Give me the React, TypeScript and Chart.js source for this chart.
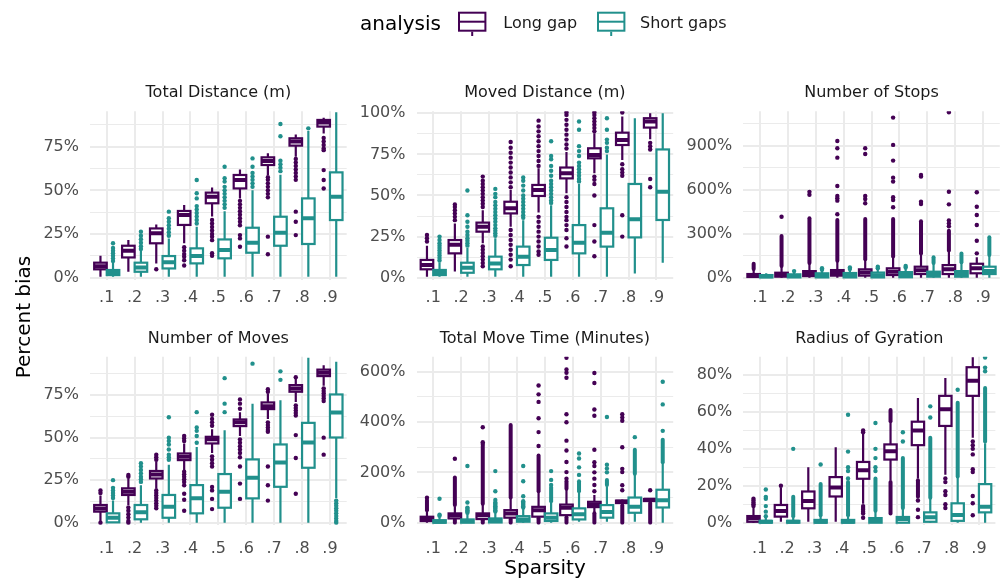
import React, { useEffect, useRef } from 'react';
import { Chart, registerables } from 'chart.js';

Chart.register(...registerables);

// ---------------- data ----------------
const SPARSITY = ['.1', '.2', '.3', '.4', '.5', '.6', '.7', '.8', '.9'];
const SERIES = ['Long gap', 'Short gaps'];

// stats per sparsity level: [lower whisker, q1, median, q3, upper whisker]
// ---- Total Distance (m)
const TD_LONG = [[0.5, 4.8, 6.5, 8.6, 12.5], [3.4, 11.6, 15.5, 18.3, 21.6], [8.2, 19.7, 25.4, 28.2, 30.5], [19.7, 30.2, 35.9, 38.2, 41.6], [35, 42.6, 46.4, 48.7, 51.7], [45.4, 51.1, 55.9, 58.8, 62], [58.8, 64.5, 66.8, 68.9, 71.2], [69.3, 75.6, 77.9, 79.8, 82], [82.6, 86.5, 88.9, 90.3, 91.6]];
const TD_LONG_OUT = [[], [], [4.8], [17.5, 15.5, 13.5, 12, 10, 7], [33, 31, 29, 27, 25, 23.5, 21.5, 14, 12.6], [44, 42, 40, 38, 36, 34, 32, 30, 24.4, 22.5, 17.7], [57.5, 56, 54, 52, 50, 48, 46, 23.5, 13.4], [68, 66, 64, 62, 60, 58, 56, 37.8, 32, 24.4], [80, 78, 76, 74, 73, 61.6, 55.9, 51.1]];
const TD_LONG_RUN = [[], [], [], [], [], [], [], [], []];
const TD_SHORT = [[0.5, 1.5, 3, 4.4, 8.5], [0.5, 3.4, 5.9, 8.6, 16], [0.5, 5.3, 8.8, 12.4, 22.5], [0.5, 8.2, 12.4, 16.8, 29.2], [0.5, 11.1, 15.8, 21.9, 38], [0.5, 14.3, 20, 28.6, 50], [0.5, 18.3, 25.8, 34.9, 59], [0.5, 19.3, 34, 45.4, 84], [0.5, 33, 46.4, 60.3, 94.7]];
const TD_SHORT_OUT = [[9.5, 11, 12.5, 14, 15.5, 17, 19.7], [16.5, 18, 20, 22, 24, 26.3], [24, 26, 28, 30, 32, 34, 37.8], [31, 33, 35, 37, 39, 41, 45.4, 48.3, 55.9], [40, 42, 44, 46, 48, 50, 52, 55, 57, 63.5], [52, 54, 56, 58, 60, 63.5, 68.3], [61, 63, 65, 67, 81, 88], [85.5], []];
const TD_SHORT_RUN = [[], [], [], [], [], [], [], [], []];

// ---- Moved Distance (m)
const MD_LONG = [[0.6, 5.1, 7.7, 10.8, 19.4], [3.7, 14.8, 20, 22.9, 33], [20.9, 28, 31, 33.5, 41], [31, 39.1, 42.2, 46.2, 53.3], [39.7, 49.7, 53.3, 56.4, 66.5], [51.3, 60.4, 63.5, 67, 76.5], [63.5, 72.6, 74.6, 78.7, 87.8], [71.6, 80.7, 83.8, 88.2, 98], [84.2, 91.3, 95, 97, 100]];
const MD_LONG_OUT = [[22, 24, 26], [35, 37, 39, 41, 43, 44.5], [43, 45, 47, 49, 51, 53, 55, 57, 59, 61.5, 19, 17, 15, 13, 11, 9, 7], [55, 58, 61, 64, 67, 70, 73, 76, 79, 82.5, 29, 26, 23, 20, 17, 14, 11, 7], [68, 71, 74, 77, 80, 83, 86, 89, 92, 95.5, 37, 34, 31, 28, 25, 22, 19, 16, 14], [78.5, 81, 84, 87, 90, 93, 96, 99, 100.5, 49, 46, 43, 40, 37, 35, 32, 29, 24, 19], [89, 91, 93, 95, 97, 99, 100.5, 61.5, 59.5, 57, 50, 32, 22, 13], [100.5, 69, 66, 64, 62, 38, 25], [82, 80, 78, 60, 55]];
const MD_LONG_RUN = [[], [], [], [], [], [], [], [], []];
const MD_SHORT = [[0.6, 1.6, 3, 4.7, 9.3], [0.6, 3, 6.1, 9.1, 18], [0.6, 5.1, 8.7, 12.8, 24], [0.6, 7.7, 12.8, 18.9, 35], [0.6, 10.8, 16.8, 24.3, 44], [0.6, 14.8, 21.3, 32, 57], [0.6, 18.9, 27.4, 42.2, 75], [2.6, 24.5, 35.5, 57, 97], [9.1, 35.1, 52.3, 78, 100]];
const MD_SHORT_OUT = [[10.5, 12, 13.5, 15, 16.5, 18, 19.5, 21, 23, 25], [19.5, 21, 22.5, 24, 26, 28, 31, 34, 38, 53], [25.5, 27, 28.5, 30, 32, 34, 36, 38, 40, 42, 44, 46, 49, 51, 54], [36.5, 38, 40, 42, 44, 46, 48, 50, 53, 56, 59, 61], [45.5, 47, 49, 51, 53, 55, 57, 59, 62, 65, 68, 72, 74, 83], [58.5, 60, 62, 64, 66, 68, 70, 74, 77, 80, 90, 95], [77, 79, 82, 84, 90, 97], [], []];
const MD_SHORT_RUN = [[], [], [], [], [], [], [], [], []];

// ---- Number of Stops
const NS_LONG = [[0, 5, 12, 25, 55], [0, 7, 20, 34, 75], [0, 11, 28, 45, 95], [0, 14, 32, 52, 110], [0, 14, 36, 57, 120], [0, 18, 41, 64, 140], [0, 25, 50, 75, 160], [0, 25, 58, 86, 180], [0, 30, 65, 95, 140]];
const NS_LONG_OUT = [[], [415], [565, 585], [432, 525, 541, 557, 625, 818, 882, 932], [507, 536, 557, 843, 882], [480, 530, 548, 655, 682, 798, 905, 1091], [502, 518, 689, 700], [350, 370, 390, 500, 586, 1127], [166, 252, 359, 427, 484, 582]];
const NS_LONG_RUN = [[[60, 95]], [[80, 285]], [[100, 405]], [[115, 393]], [[125, 400]], [[145, 400]], [[165, 385]], [[185, 320]], []];
const NS_SHORT = [[0, 2, 10, 18, 30], [0, 2, 12, 23, 40], [0, 2, 15, 30, 50], [0, 2, 15, 32, 55], [0, 2, 17, 35, 60], [0, 3, 18, 38, 65], [0, 7, 25, 41, 95], [0, 7, 25, 45, 100], [0, 25, 45, 75, 150]];
const NS_SHORT_OUT = [[], [45], [55, 65], [60, 70], [65, 75], [70, 80], [], [], []];
const NS_SHORT_RUN = [[], [], [], [], [], [], [[100, 140]], [[105, 165]], [[155, 275]]];

// ---- Number of Moves
const NM_LONG = [[0.6, 6.5, 8.4, 10.4, 16], [10.4, 16.3, 18.2, 20.2, 26], [20, 26, 28.4, 30.4, 36], [31, 36.8, 38.8, 40.7, 46.5], [41, 46.6, 49, 50.5, 55], [51, 56.8, 59, 60.7, 65], [61, 66.8, 68.5, 70.7, 76], [71, 77, 78.9, 80.9, 84.5], [80.5, 86.2, 88.1, 90, 92.5]];
const NM_LONG_OUT = [[17.5, 19, 0], [27, 28, 9, 7, 5, 3, 1, 0], [37, 38.5, 40, 19, 17.5, 16, 14.5, 13, 11.5, 10, 8.5], [48, 49.5, 51, 30, 28.5, 27, 25.5, 24, 22, 17, 13.5, 7], [57, 59, 61, 63.5, 39, 37, 35, 33, 21, 19, 14, 8], [67, 70, 72.5, 49, 47, 45, 43, 41, 38.5, 33, 23, 14], [77, 78.5, 59, 57.5, 56, 54.5, 53.5, 33, 22, 13], [85.5, 69, 67.5, 66, 64.5, 63, 51.5, 38, 17], [79, 77.5, 76, 74.5, 73, 71.5, 50, 40]];
const NM_LONG_RUN = [[], [], [], [], [], [], [], [], []];
const NM_SHORT = [[0, 0.2, 2.9, 5.5, 13], [0, 2, 6.1, 10.4, 22], [0, 2.9, 9.4, 16.3, 34], [0, 5.5, 14.3, 22.1, 44.5], [0, 8.8, 18.2, 28.6, 54.4], [0, 14.3, 26.4, 37.2, 69.9], [0, 21.1, 35.4, 46, 72], [0, 32.3, 47.2, 58.7, 97], [14.3, 50.1, 64.8, 75.4, 94.6]];
const NM_SHORT_OUT = [[14.5, 16, 17.5, 19, 20.5, 25], [24, 25.5, 27, 29, 31, 33, 35], [37, 38.5, 40, 43, 46, 48, 50, 62], [47, 51, 54, 56, 65], [65, 70, 85], [93.5], [84, 89], [], [13, 11.5, 10, 8.5, 7, 5.5, 4, 2.5, 1, 0]];
const NM_SHORT_RUN = [[], [], [], [], [], [], [], [], []];

// ---- Total Move Time (Minutes)
const MT_LONG = [[0, 6.6, 17, 23.7, 45], [0, 17, 30, 37, 65], [0, 14.5, 30, 37, 70], [0, 20, 37, 50, 95], [0, 24, 50, 63, 120], [0, 30, 59, 72, 130], [40, 62, 70, 83, 110], [70, 78, 83, 88, 92], [80, 86, 91, 94, 97]];
const MT_LONG_OUT = [[99], [254], [313, 320, 379], [], [305, 360, 415, 480, 510, 545], [175, 201, 241, 287, 326, 399, 431, 576, 596, 609, 655], [125, 150, 175, 200, 225, 240, 290, 425, 450, 555, 595], [129, 149, 201, 214, 300, 405, 418, 431], [129]];
const MT_LONG_RUN = [[[50, 90]], [[70, 180], [0, 12]], [[75, 306], [0, 10]], [[100, 388], [0, 15]], [[125, 267], [0, 18]], [[135, 165], [0, 22]], [[0, 38]], [[0, 68]], [[0, 78]]];
const MT_SHORT = [[0, 0, 4, 10, 25], [0, 0, 6.5, 13, 35], [0, 1, 8, 17, 40], [0, 4, 13, 26, 55], [0, 7, 20, 37, 80], [4, 13, 34, 57, 120], [4, 20, 43, 70, 145], [4, 39.5, 63, 100, 190], [0, 60.5, 89.5, 131, 235]];
const MT_SHORT_OUT = [[28, 32, 95], [40, 45, 50, 55, 60, 80, 225], [45, 50, 55, 60, 65, 70, 75, 80, 90, 125, 205], [60, 65, 70, 75, 80, 85, 105, 165, 225], [150, 170, 205], [190, 220, 255, 275], [200, 215, 230, 420], [340], [365, 470, 560]];
const MT_SHORT_RUN = [[], [], [], [], [[85, 140]], [[125, 165]], [[150, 170]], [[195, 290]], [[240, 330]]];

// ---- Radius of Gyration
const RG_LONG = [[0, 0.5, 2.4, 3.6, 8], [0.5, 3.3, 6.4, 9.6, 19], [0.5, 7.8, 11.8, 16.9, 30], [0.5, 14.2, 19.1, 24.7, 40.9], [10.2, 23.8, 28.4, 32.9, 48], [23, 34.2, 38.7, 42.4, 54], [24, 42, 50, 54.7, 67.5], [26, 52.4, 61.5, 68.7, 78.4], [46, 68.7, 76.9, 84.2, 89.6]];
const RG_LONG_OUT = [[9, 10, 11, 12, 13], [20], [], [], [49, 50, 9, 8, 7, 6, 5, 2.7], [], [12, 7, 3], [24, 22, 17, 15, 10, 8], [44, 42, 40, 37, 29, 27.5, 14.5, 10.5, 4]];
const RG_LONG_RUN = [[], [], [], [], [], [[55, 61], [5, 22]], [[14, 23]], [], []];
const RG_SHORT = [[0, 0, 0.5, 1, 2.5], [0, 0, 0.5, 1, 2.5], [0, 0, 0.5, 1.5, 3.5], [0, 0, 0.5, 1.5, 3.5], [0, 0, 1, 2.5, 6], [0, 0, 2, 3.1, 7.5], [0, 0.5, 3, 5.6, 13], [0, 1, 4.2, 10.5, 24.7], [0, 5.6, 8.7, 20.9, 43]];
const RG_SHORT_OUT = [[3.5, 6, 9, 13, 14, 18], [40], [31.5], [24, 28, 30, 38.5, 58.5], [28, 30, 35, 40, 54], [44, 49], [57, 63], [72], [82, 84, 89.5]];
const RG_SHORT_RUN = [[], [[3.5, 14]], [[4, 21]], [[4, 22]], [[6.5, 24]], [[8, 35]], [[13.5, 46]], [[25, 65]], [[44, 73]]];

// tick values (major = labelled, minor = unlabelled grid)
const TD_MAJOR = [0, 25, 50, 75];
const TD_MINOR = [12.5, 37.5, 62.5, 87.5];
const MD_MAJOR = [0, 25, 50, 75, 100];
const MD_MINOR = [12.5, 37.5, 62.5, 87.5];
const NS_MAJOR = [0, 300, 600, 900];
const NS_MINOR = [150, 450, 750, 1050];
const NM_MAJOR = [0, 25, 50, 75];
const NM_MINOR = [12.5, 37.5, 62.5, 87.5];
const MT_MAJOR = [0, 200, 400, 600];
const MT_MINOR = [100, 300, 500];
const RG_MAJOR = [0, 20, 40, 60, 80];
const RG_MINOR = [10, 30, 50, 70];

// ---------------- layout / style ----------------
const COLORS = ['#440154', '#21908C'];
const OFFSETS = [-0.225, 0.225];
const BOX_WIDTH = 0.45;
const FONT = "'DejaVu Sans', sans-serif";
const COL_LEFT = [90, 416.5, 743.2];
const PANEL_W = 256.7;
const ROW_TOP = [111.3, 356.7];
const ROW_BOTTOM = [279.7, 524.7];
const X_TICK_PAD = [9, 15];
const Y_AXIS_W = 70;
const X_AXIS_H = 40;
const TITLE_PAD_TOP = 4;
const TITLE_PAD_BOTTOM = 8.4;
const TITLE_LINE = 19.2;
const BOX_LINE = 2.2;
const MEDIAN_LINE = 4;
const RUN_LINE = 4;
const POINT_R = 2.2;

type PanelDef = {
  title: string; col: number; row: number; yMin: number; yMax: number;
  major: number[]; minor: number[];
  stats: number[][][]; outs: number[][][]; runs: number[][][][];
};

const PANELS: PanelDef[] = [
  { title: 'Total Distance (m)', col: 0, row: 0, yMin: -1.14, yMax: 95.25, major: TD_MAJOR, minor: TD_MINOR,
    stats: [TD_LONG, TD_SHORT], outs: [TD_LONG_OUT, TD_SHORT_OUT], runs: [TD_LONG_RUN, TD_SHORT_RUN] },
  { title: 'Moved Distance (m)', col: 1, row: 0, yMin: -1.22, yMax: 101.2, major: MD_MAJOR, minor: MD_MINOR,
    stats: [MD_LONG, MD_SHORT], outs: [MD_LONG_OUT, MD_SHORT_OUT], runs: [MD_LONG_RUN, MD_SHORT_RUN] },
  { title: 'Number of Stops', col: 2, row: 0, yMin: -13.6, yMax: 1134, major: NS_MAJOR, minor: NS_MINOR,
    stats: [NS_LONG, NS_SHORT], outs: [NS_LONG_OUT, NS_SHORT_OUT], runs: [NS_LONG_RUN, NS_SHORT_RUN] },
  { title: 'Number of Moves', col: 0, row: 1, yMin: -1.18, yMax: 97.6, major: NM_MAJOR, minor: NM_MINOR,
    stats: [NM_LONG, NM_SHORT], outs: [NM_LONG_OUT, NM_SHORT_OUT], runs: [NM_LONG_RUN, NM_SHORT_RUN] },
  { title: 'Total Move Time (Minutes)', col: 1, row: 1, yMin: -7.9, yMax: 659.5, major: MT_MAJOR, minor: MT_MINOR,
    stats: [MT_LONG, MT_SHORT], outs: [MT_LONG_OUT, MT_SHORT_OUT], runs: [MT_LONG_RUN, MT_SHORT_RUN] },
  { title: 'Radius of Gyration', col: 2, row: 1, yMin: -1.08, yMax: 89.9, major: RG_MAJOR, minor: RG_MINOR,
    stats: [RG_LONG, RG_SHORT], outs: [RG_LONG_OUT, RG_SHORT_OUT], runs: [RG_LONG_RUN, RG_SHORT_RUN] },
];

function makeBoxPlugin(p: PanelDef) {
  return {
    id: 'boxplots',
    beforeDatasetsDraw(chart: any) {
      const { ctx, chartArea: a } = chart;
      const xs = chart.scales.x;
      const ys = chart.scales.y;
      const unit = xs.getPixelForValue(1) - xs.getPixelForValue(0);
      const half = (unit * BOX_WIDTH) / 2;
      ctx.save();
      ctx.beginPath();
      ctx.rect(a.left, a.top, a.right - a.left, a.bottom - a.top);
      ctx.clip();
      p.stats.forEach((series, si) => {
        const color = COLORS[si];
        series.forEach((st, i) => {
          const cx = xs.getPixelForValue(i + 1 + OFFSETS[si]);
          const [lo, q1, md, q3, hi] = st.map((v) => ys.getPixelForValue(v));
          ctx.strokeStyle = color;
          ctx.lineCap = 'butt';
          ctx.lineWidth = BOX_LINE;
          ctx.beginPath();
          ctx.moveTo(cx, hi);
          ctx.lineTo(cx, q3);
          ctx.moveTo(cx, q1);
          ctx.lineTo(cx, lo);
          ctx.stroke();
          // dense runs of outliers
          ctx.lineWidth = RUN_LINE;
          ctx.lineCap = 'round';
          (p.runs[si][i] || []).forEach((r) => {
            ctx.beginPath();
            ctx.moveTo(cx, ys.getPixelForValue(r[0]));
            ctx.lineTo(cx, ys.getPixelForValue(r[1]));
            ctx.stroke();
          });
          ctx.lineCap = 'butt';
          ctx.lineJoin = 'miter';
          ctx.fillStyle = '#ffffff';
          ctx.fillRect(cx - half, q3, 2 * half, q1 - q3);
          ctx.lineWidth = BOX_LINE;
          ctx.strokeRect(cx - half, q3, 2 * half, q1 - q3);
          ctx.lineWidth = MEDIAN_LINE;
          ctx.beginPath();
          ctx.moveTo(cx - half, md);
          ctx.lineTo(cx + half, md);
          ctx.stroke();
        });
      });
      ctx.restore();
    },
  };
}

function PanelChart({ p }: { p: PanelDef }) {
  const ref = useRef<HTMLCanvasElement | null>(null);
  useEffect(() => {
    if (!ref.current) return;
    const left = COL_LEFT[p.col];
    const top = ROW_TOP[p.row];
    const bottom = ROW_BOTTOM[p.row];
    const ticks = [...p.major, ...p.minor].filter((v) => v >= p.yMin && v <= p.yMax).sort((a, b) => a - b);
    const datasets = p.outs.map((series, si) => ({
      label: SERIES[si],
      data: series.flatMap((vals, i) => vals.map((v) => ({ x: i + 1 + OFFSETS[si], y: v }))),
      backgroundColor: COLORS[si],
      borderWidth: 0,
      pointRadius: POINT_R,
      pointHoverRadius: POINT_R,
    }));
    const chart = new Chart(ref.current, {
      type: 'scatter',
      data: { datasets },
      plugins: [makeBoxPlugin(p)],
      options: {
        responsive: false,
        animation: false,
        events: [],
        layout: {
          padding: {
            left: left - Y_AXIS_W,
            right: 1002 - (left + PANEL_W),
            top: top - (TITLE_PAD_TOP + TITLE_LINE + TITLE_PAD_BOTTOM),
            bottom: 580 - bottom - X_AXIS_H,
          },
        },
        plugins: {
          legend: { display: false },
          tooltip: { enabled: false },
          title: {
            display: true,
            text: p.title,
            fullSize: false,
            color: '#1A1A1A',
            font: { family: FONT, size: 16, weight: 'normal', lineHeight: 1.2 },
            padding: { top: TITLE_PAD_TOP, bottom: TITLE_PAD_BOTTOM },
          },
        },
        scales: {
          x: {
            type: 'linear',
            min: 0.4,
            max: 9.6,
            afterBuildTicks: (s: any) => {
              s.ticks = SPARSITY.map((_, i) => ({ value: i + 1 }));
            },
            afterFit: (s: any) => {
              s.height = X_AXIS_H;
            },
            ticks: {
              autoSkip: false,
              maxRotation: 0,
              padding: X_TICK_PAD[p.row],
              color: '#4D4D4D',
              font: { family: FONT, size: 16 },
              callback: (v: any) => SPARSITY[Math.round(v) - 1] ?? '',
            },
            grid: { color: '#EBEBEB', lineWidth: 2, drawTicks: false },
            border: { display: false },
          },
          y: {
            type: 'linear',
            min: p.yMin,
            max: p.yMax,
            afterBuildTicks: (s: any) => {
              s.ticks = ticks.map((v) => ({ value: v }));
            },
            afterFit: (s: any) => {
              s.width = Y_AXIS_W;
            },
            ticks: {
              autoSkip: false,
              padding: 11,
              color: '#4D4D4D',
              font: { family: FONT, size: 16 },
              callback: (v: any) => (p.major.includes(v) ? `${v}%` : ''),
            },
            grid: {
              color: '#EBEBEB',
              lineWidth: (c: any) => (c.tick && p.major.includes(c.tick.value) ? 2 : 1),
              drawTicks: false,
            },
            border: { display: false },
          },
        },
      } as any,
    });
    return () => chart.destroy();
  }, [p]);
  return (
    <canvas
      ref={ref}
      width={1002}
      height={580}
      style={{ position: 'absolute', left: 0, top: 0, width: 1002, height: 580, pointerEvents: 'none' }}
    />
  );
}

function LegendKey({ left, color }: { left: number; color: string }) {
  const sx = left - 2;
  const sy = 8;
  const x0 = left + 1 - sx;
  const w = 26.4;
  const yTop = 12.7 - sy;
  const yBot = 30.7 - sy;
  return (
    <svg style={{ position: 'absolute', left: sx, top: sy }} width={34} height={32}>
      <rect x={x0} y={yTop} width={w} height={yBot - yTop} fill="#fff" stroke={color} strokeWidth={2} />
      <line x1={x0} x2={x0 + w} y1={21.7 - sy} y2={21.7 - sy} stroke={color} strokeWidth={2} />
      <line x1={x0 + w / 2} x2={x0 + w / 2} y1={yBot + 1} y2={36 - sy} stroke={color} strokeWidth={2} />
    </svg>
  );
}

export default function App() {
  const textBase: React.CSSProperties = { position: 'absolute', fontFamily: FONT, whiteSpace: 'nowrap', margin: 0 };
  return (
    <div style={{ position: 'absolute', left: 0, top: 0, width: 1002, height: 580, background: '#fff', overflow: 'hidden' }}>
      {PANELS.map((p) => (
        <PanelChart key={p.title} p={p} />
      ))}
      <div style={{ ...textBase, left: 360, top: 10.7, fontSize: 20, lineHeight: '24px', color: '#000' }}>analysis</div>
      <LegendKey left={458.3} color={COLORS[0]} />
      <div style={{ ...textBase, left: 503.3, top: 12.7, fontSize: 16, lineHeight: '20px', color: '#1A1A1A' }}>{SERIES[0]}</div>
      <LegendKey left={596.7} color={COLORS[1]} />
      <div style={{ ...textBase, left: 640, top: 12.7, fontSize: 16, lineHeight: '20px', color: '#1A1A1A' }}>{SERIES[1]}</div>
      <div style={{ ...textBase, left: 445, width: 200, textAlign: 'center', top: 555, fontSize: 20, lineHeight: '24px', color: '#000' }}>Sparsity</div>
      <div
        style={{
          ...textBase,
          left: 23 - 100,
          top: 316.5 - 12,
          width: 200,
          textAlign: 'center',
          fontSize: 20,
          lineHeight: '24px',
          color: '#000',
          transform: 'rotate(-90deg)',
        }}
      >
        Percent bias
      </div>
    </div>
  );
}
